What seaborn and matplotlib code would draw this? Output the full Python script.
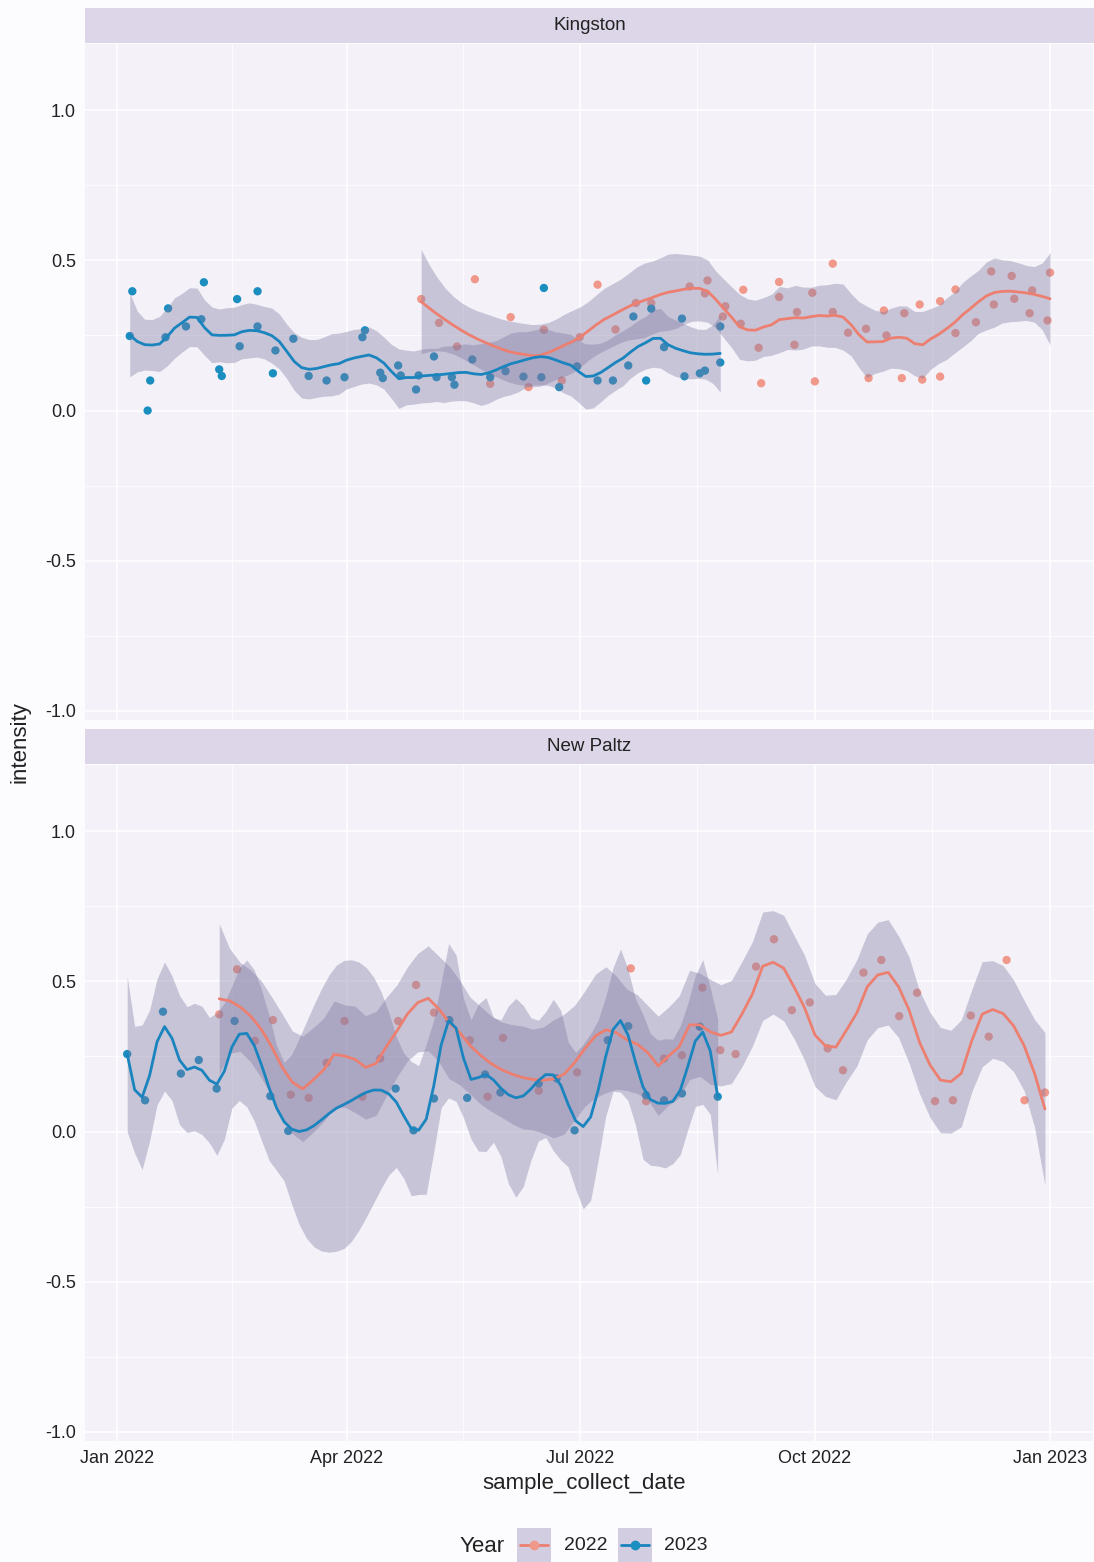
import numpy as np
import pandas as pd
import matplotlib
matplotlib.use("Agg")
import matplotlib.pyplot as plt
import matplotlib.dates as mdates
import seaborn as sns

# ---------------- data (day offsets from 2022-01-01, values) ----------------
k23_days = [5, 6, 12, 13, 19, 20, 27, 33, 34, 40, 41, 47, 48, 55, 55, 61, 62, 69, 75, 82,
            89, 96, 97, 103, 104, 110, 111, 117, 118, 124, 125, 131, 132, 139, 146, 152, 159, 166, 167, 173,
            180, 188, 194, 200, 202, 207, 209, 214, 221, 222, 228, 230, 236, 236]
k23_vals = [0.248, 0.397, 0.0, 0.10, 0.244, 0.34, 0.28, 0.304, 0.427, 0.137, 0.115, 0.371, 0.214, 0.28, 0.397,
            0.124, 0.2, 0.239, 0.115, 0.10, 0.111, 0.244, 0.267, 0.126, 0.108, 0.15, 0.117, 0.07, 0.117, 0.18,
            0.111, 0.111, 0.086, 0.17, 0.111, 0.131, 0.113, 0.111, 0.408, 0.078, 0.147, 0.10, 0.10, 0.15, 0.313,
            0.10, 0.339, 0.211, 0.306, 0.114, 0.124, 0.133, 0.28, 0.16]

k22_days = [119, 126, 133, 140, 146, 154, 161, 167, 174, 181, 188, 195, 203, 209, 224, 230, 231, 237, 238, 244,
            245, 251, 252, 259, 259, 265, 266, 272, 273, 280, 280, 286, 293, 294, 300, 301, 307, 308, 314, 315,
            322, 322, 328, 328, 336, 342, 343, 350, 351, 357, 358, 364, 365]
k22_vals = [0.371, 0.292, 0.213, 0.437, 0.089, 0.311, 0.078, 0.269, 0.10, 0.244, 0.419, 0.27, 0.358, 0.358,
            0.413, 0.39, 0.433, 0.313, 0.347, 0.289, 0.402, 0.209, 0.091, 0.428, 0.378, 0.219, 0.328, 0.392,
            0.097, 0.489, 0.328, 0.259, 0.272, 0.108, 0.333, 0.25, 0.108, 0.324, 0.353, 0.103, 0.364, 0.113,
            0.403, 0.258, 0.294, 0.463, 0.353, 0.448, 0.372, 0.324, 0.4, 0.3, 0.459]

np23_days = [4, 11, 18, 25, 32, 39, 46, 60, 67, 109, 116, 124, 130, 137, 144, 150, 165, 172, 179, 192,
             200, 207, 214, 221, 228, 235]
np23_vals = [0.258, 0.104, 0.399, 0.193, 0.238, 0.143, 0.368, 0.118, 0.002, 0.143, 0.004, 0.11, 0.371, 0.112,
             0.19, 0.13, 0.16, 0.177, 0.004, 0.304, 0.351, 0.121, 0.104, 0.127, 0.349, 0.116]

np22_days = [40, 47, 54, 61, 68, 75, 82, 89, 96, 103, 110, 117, 124, 138, 145, 151, 165, 180, 201, 207,
             214, 221, 229, 236, 242, 250, 257, 264, 271, 278, 284, 292, 299, 306, 313, 320, 327, 334, 341, 348,
             355, 363]
np22_vals = [0.39, 0.54, 0.302, 0.371, 0.123, 0.112, 0.229, 0.368, 0.116, 0.243, 0.368, 0.488, 0.396, 0.304,
             0.116, 0.312, 0.136, 0.197, 0.543, 0.101, 0.243, 0.254, 0.479, 0.271, 0.258, 0.549, 0.64, 0.404,
             0.43, 0.277, 0.204, 0.529, 0.571, 0.384, 0.462, 0.101, 0.104, 0.386, 0.316, 0.571, 0.104, 0.13]

sites = ["Kingston", "New Paltz"]
years = ["2022", "2023"]
y_ticks = [-1.0, -0.5, 0.0, 0.5, 1.0]
y_ticklabels = ["-1.0", "-0.5", "0.0", "0.5", "1.0"]
x_tick_dates = ["2022-01-01", "2022-04-01", "2022-07-01", "2022-10-01", "2023-01-01"]
x_ticklabels = ["Jan 2022", "Apr 2022", "Jul 2022", "Oct 2022", "Jan 2023"]

BASE = pd.Timestamp("2022-01-01")
SPANS = {("Kingston", "2022"): 0.25, ("Kingston", "2023"): 0.25,
         ("New Paltz", "2022"): 0.2, ("New Paltz", "2023"): 0.17}

# ---------------- colours / style ----------------
COL = {"2022": "#EC7F70", "2023": "#1A84BE"}
PCOL = {"2022": "#F0988A", "2023": "#1B8EC0"}
RIBBON = "#7F79A3"
PANEL = "#F4F2F8"
STRIP = "#DCD6E8"
FIGBG = "#FCFBFD"
TXT = "#222222"


def to_dates(days):
    return BASE + pd.to_timedelta(np.asarray(days, float), unit="D")


def tq975(df):
    z = 1.959964
    return (z + (z**3 + z) / (4 * df) + (5 * z**5 + 16 * z**3 + 3 * z) / (96 * df**2)
            + (3 * z**7 + 19 * z**5 + 17 * z**3 - 15 * z) / (384 * df**3))


def loess(x, y, xs, span, cell=0.2):
    """Local quadratic loess with kd-tree vertices + cubic Hermite interpolation (like R's loess)."""
    x = np.asarray(x, float) / 100.0
    y = np.asarray(y, float)
    xs = np.asarray(xs, float) / 100.0
    n = len(x)
    q = int(np.floor(n * span))
    fc = max(int(np.floor(n * span * cell)), 1)

    def rows(x0):
        d = np.abs(x - x0)
        h = np.sort(d)[q - 1] * 1.0001
        w = np.clip(1 - (d / h) ** 3, 0, None) ** 3
        X = np.column_stack([np.ones(n), x - x0, (x - x0) ** 2])
        sol = np.linalg.lstsq((X.T * w) @ X, X.T * w, rcond=None)[0]
        return sol[0], sol[1]

    lo, hi = x.min(), x.max()
    mu = 0.005 * (hi - lo)
    verts = [lo - mu, hi + mu]

    def split(p):
        if len(p) <= fc:
            return
        m = (len(p) + 1) // 2 - 1
        t = 0.5 * (p[m] + p[m + 1])
        verts.append(t)
        split(p[:m + 1])
        split(p[m + 1:])

    split(np.sort(x))
    verts = np.unique(np.array(verts))
    V0, V1 = zip(*[rows(v) for v in verts])
    V0 = np.array(V0)
    V1 = np.array(V1)

    def interp(pts):
        idx = np.clip(np.searchsorted(verts, pts, side="right") - 1, 0, len(verts) - 2)
        a = verts[idx]
        b = verts[idx + 1]
        hl = b - a
        t = (pts - a) / hl
        h00 = 2 * t**3 - 3 * t**2 + 1
        h10 = t**3 - 2 * t**2 + t
        h01 = -2 * t**3 + 3 * t**2
        h11 = t**3 - t**2
        return (h00[:, None] * V0[idx] + (h10 * hl)[:, None] * V1[idx]
                + h01[:, None] * V0[idx + 1] + (h11 * hl)[:, None] * V1[idx + 1])

    L = interp(x)
    Ls = interp(xs)
    fit = Ls @ y
    res = y - L @ y
    IL = np.eye(n) - L
    M = IL.T @ IL
    d1 = np.trace(M)
    d2 = np.trace(M @ M)
    s = np.sqrt(res @ res / d1)
    se = s * np.sqrt((Ls ** 2).sum(axis=1))
    t = tq975(d1 ** 2 / d2)
    return fit, fit - t * se, fit + t * se


data = {
    ("Kingston", "2022"): (k22_days, k22_vals),
    ("Kingston", "2023"): (k23_days, k23_vals),
    ("New Paltz", "2022"): (np22_days, np22_vals),
    ("New Paltz", "2023"): (np23_days, np23_vals),
}

sns.set_theme(style="darkgrid")
plt.rcParams["font.family"] = ["Liberation Sans", "DejaVu Sans"]

W, H = 1094, 1562
fig = plt.figure(figsize=(W / 100, H / 100), dpi=100, facecolor=FIGBG)


def fx(px):
    return px / W


def fy(py):
    return 1 - py / H


left_px, right_px = 85, 1093
panels = [(44, 720, 8, 43), (765, 1441, 729, 764)]

xlim = (mdates.date2num(BASE - pd.Timedelta(days=12.5)), mdates.date2num(BASE + pd.Timedelta(days=381.8)))
maj = [mdates.date2num(pd.Timestamp(d)) for d in x_tick_dates]
minor = [(a + b) / 2 for a, b in zip(maj[:-1], maj[1:])]

for i, site in enumerate(sites):
    top, bot, stop, sbot = panels[i]
    ax = fig.add_axes([fx(left_px), fy(bot), fx(right_px - left_px), (bot - top) / H])
    ax.set_facecolor(PANEL)

    pts = []
    for yr in years:
        d, v = data[(site, yr)]
        pts.append(pd.DataFrame({"date": to_dates(d), "intensity": v, "Year": yr}))
    pts = pd.concat(pts, ignore_index=True)
    sns.scatterplot(data=pts, x="date", y="intensity", hue="Year", palette=PCOL, s=36,
                    linewidth=0, legend=False, ax=ax, zorder=3)

    for yr in years:
        d, v = data[(site, yr)]
        grid = np.linspace(min(d), max(d), 80)
        fit, lo, hi = loess(d, v, grid, SPANS[(site, yr)])
        gd = to_dates(grid)
        ax.fill_between(gd, lo, hi, color=RIBBON, alpha=0.38, linewidth=0, zorder=4)
        sm = pd.DataFrame({"date": gd, "intensity": fit})
        sns.lineplot(data=sm, x="date", y="intensity", color=COL[yr], linewidth=2.0, ax=ax, zorder=5)

    ax.set_xlim(*xlim)
    ax.set_ylim(-1.03, 1.22)
    ax.set_yticks(y_ticks)
    ax.set_yticklabels(y_ticklabels)
    ax.set_yticks([-0.75, -0.25, 0.25, 0.75], minor=True)
    ax.set_xticks(maj)
    ax.set_xticks(minor, minor=True)
    ax.grid(which="major", color="white", linewidth=1.1)
    ax.grid(which="minor", color="white", linewidth=0.55)
    ax.tick_params(which="minor", length=0)
    ax.tick_params(which="major", length=3.5, width=0.8, color="#333333", labelsize=13,
                   labelcolor=TXT, pad=3)
    for sp in ax.spines.values():
        sp.set_visible(False)
    ax.set_xlabel("")
    ax.set_ylabel("")
    if i == 0:
        ax.tick_params(axis="x", which="both", length=0, labelbottom=False)
    else:
        ax.set_xticklabels(x_ticklabels)

    sax = fig.add_axes([fx(left_px), fy(sbot), fx(W - left_px), (sbot - stop) / H])
    sax.set_facecolor(STRIP)
    sax.set_xticks([])
    sax.set_yticks([])
    for sp in sax.spines.values():
        sp.set_visible(False)
    sax.text(0.5, 0.5, site, ha="center", va="center", fontsize=13.5, color=TXT, transform=sax.transAxes)

fig.text(fx(20), fy(742), "intensity", rotation=90, ha="center", va="center", fontsize=16, color=TXT)
fig.text(fx(584), fy(1483), "sample_collect_date", ha="center", va="center", fontsize=16, color=TXT)

fig.text(fx(460), fy(1546), "Year", ha="left", va="center", fontsize=16, color=TXT)
for yr, kx, tx in [("2022", 517, 564), ("2023", 618, 664)]:
    kax = fig.add_axes([fx(kx), fy(1562), fx(34), 34 / H])
    kax.set_facecolor("#D2CDE0")
    kax.set_xlim(0, 1)
    kax.set_ylim(0, 1)
    kax.plot([0.1, 0.9], [0.5, 0.5], color=COL[yr], linewidth=2.0)
    kax.plot([0.5], [0.5], "o", color=PCOL[yr], markersize=6)
    kax.set_xticks([])
    kax.set_yticks([])
    for sp in kax.spines.values():
        sp.set_visible(False)
    fig.text(fx(tx), fy(1546), yr, ha="left", va="center", fontsize=14, color=TXT)

fig.savefig("out.png", dpi=100, facecolor=FIGBG)
